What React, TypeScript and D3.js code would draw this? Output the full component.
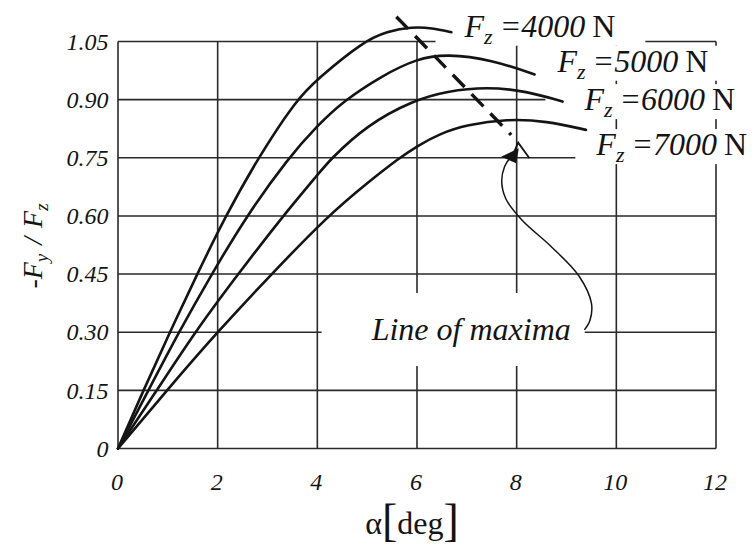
import React, { useEffect, useRef } from 'react';
import * as d3 from 'd3';

const WIDTH = 756;
const HEIGHT = 546;

// Axis ticks
const xTickValues = [0, 2, 4, 6, 8, 10, 12];
const xTickLabels = ['0', '2', '4', '6', '8', '10', '12'];
const yTickValues = [0, 0.15, 0.3, 0.45, 0.6, 0.75, 0.9, 1.05];
const yTickLabels = ['0', '0.15', '0.30', '0.45', '0.60', '0.75', '0.90', '1.05'];

// Vertical wheel loads [N]
const loads = [4000, 5000, 6000, 7000];

// Slip angle α [deg] and normalised lateral force -Fy/Fz, one pair of arrays per load
const alpha4000 = [0, 0.51, 1.04, 1.59, 2.14, 2.81, 3.58, 4.0, 4.92, 5.4, 5.9, 6.3, 6.69];
const ratio4000 = [0, 0.15, 0.3, 0.45, 0.595, 0.75, 0.9, 0.953, 1.05, 1.076, 1.088, 1.085, 1.074];

const alpha5000 = [0, 0.61, 1.22, 1.88, 2.58, 3.42, 4.0, 4.52, 5.3, 6.0, 6.6, 7.5, 8.36];
const ratio5000 = [0, 0.15, 0.3, 0.45, 0.6, 0.75, 0.833, 0.896, 0.962, 1.006, 1.018, 1.003, 0.965];

const alpha6000 = [0, 0.78, 1.54, 2.41, 3.31, 4.0, 4.25, 5.0, 5.92, 6.6, 7.4, 8.2, 8.92];
const ratio6000 = [0, 0.15, 0.3, 0.45, 0.6, 0.705, 0.745, 0.835, 0.898, 0.922, 0.933, 0.922, 0.895];

const alpha7000 = [0, 0.98, 1.99, 3.08, 4.21, 5.0, 5.65, 6.0, 6.45, 7.0, 7.8, 8.6, 9.39];
const ratio7000 = [0, 0.15, 0.3, 0.45, 0.6, 0.685, 0.75, 0.78, 0.812, 0.835, 0.85, 0.845, 0.822];

// Line of maxima: end points (α, -Fy/Fz)
const maximaAlpha = [5.585, 7.89];
const maximaRatio = [1.114, 0.809];

// Leader from the note up to the line of maxima
const leaderAlpha = [9.36, 9.47, 9.5, 9.25, 8.7, 8.1, 7.78, 7.7, 7.76, 7.86];
const leaderRatio = [0.306, 0.33, 0.375, 0.445, 0.52, 0.59, 0.645, 0.69, 0.728, 0.748];

// Arrow head at the end of the leader
const arrowFillAlpha = [7.689, 8.042, 7.99];
const arrowFillRatio = [0.7528, 0.7745, 0.7358];
const arrowOpenAlpha = [7.922, 8.03, 8.257];
const arrowOpenRatio = [0.7572, 0.789, 0.7487];

const noteText = 'Line of maxima';

export default function App() {
  const ref = useRef<SVGSVGElement>(null);

  useEffect(() => {
    const svg = d3.select(ref.current);
    svg.selectAll('*').remove();

    const font = "'Liberation Serif', 'Times New Roman', serif";
    const ink = '#141414';
    const gridInk = '#2a2a2a';

    const x = d3.scaleLinear().domain([0, 12]).range([118, 716]);
    const y = d3.scaleLinear().domain([0, 1.05]).range([448.5, 41.5]);

    svg.append('rect').attr('width', WIDTH).attr('height', HEIGHT).attr('fill', '#fff');

    const gGrid = svg.append('g');
    const gBoxes = svg.append('g');
    const gMarks = svg.append('g');
    const gText = svg.append('g').style('font-family', font).attr('fill', ink);

    // Grid and frame
    gGrid.selectAll('line.v').data(xTickValues).join('line')
      .attr('class', 'v')
      .attr('x1', d => x(d)).attr('x2', d => x(d))
      .attr('y1', y(0)).attr('y2', y(1.05))
      .attr('stroke', gridInk).attr('stroke-width', 1.6);
    gGrid.selectAll('line.h').data(yTickValues).join('line')
      .attr('class', 'h')
      .attr('y1', d => y(d)).attr('y2', d => y(d))
      .attr('x1', x(0)).attr('x2', x(12))
      .attr('stroke', gridInk).attr('stroke-width', 1.6);

    // Tick labels
    gText.selectAll('text.xt').data(xTickValues).join('text')
      .attr('class', 'xt')
      .attr('x', d => x(d) - 1).attr('y', 490)
      .attr('text-anchor', 'middle')
      .attr('font-style', 'italic').attr('font-size', 24)
      .text((d, i) => xTickLabels[i]);
    gText.selectAll('text.yt').data(yTickValues).join('text')
      .attr('class', 'yt')
      .attr('x', 108.5).attr('y', d => y(d))
      .attr('dy', '0.34em')
      .attr('text-anchor', 'end')
      .attr('font-style', 'italic').attr('font-size', 24)
      .text((d, i) => yTickLabels[i]);

    // Axis titles
    const xt = gText.append('text')
      .attr('x', 412).attr('y', 534).attr('text-anchor', 'middle').attr('font-size', 32);
    xt.append('tspan').text('α');
    xt.append('tspan').attr('font-size', 46).attr('dy', 2).text('[');
    xt.append('tspan').attr('dy', -2).text('deg');
    xt.append('tspan').attr('font-size', 46).attr('dy', 2).text(']');

    const yt = gText.append('text')
      .attr('transform', 'translate(42,246) rotate(-90)')
      .attr('text-anchor', 'middle').attr('font-size', 28).attr('font-style', 'italic');
    yt.append('tspan').text('-F');
    yt.append('tspan').attr('font-size', 19).attr('dy', 6).text('y');
    yt.append('tspan').attr('dy', -6).attr('dx', 9).text('/');
    yt.append('tspan').attr('dx', 9).text('F');
    yt.append('tspan').attr('font-size', 19).attr('dy', 6).text('z');

    // Load labels with white backing boxes
    const labelAlpha = [6.954, 8.818, 9.359, 9.599];
    const labelRatio = [1.0624, 0.972, 0.873, 0.757];
    const labelPadLeft = [28, 21, 38, 20];

    loads.forEach((load, i) => {
      const t = gText.append('text')
        .attr('x', x(labelAlpha[i])).attr('y', y(labelRatio[i]))
        .attr('font-size', 32);
      t.append('tspan').attr('font-style', 'italic').text('F');
      t.append('tspan').attr('font-style', 'italic').attr('font-size', 22).attr('dy', 7).text('z');
      t.append('tspan').attr('font-style', 'italic').attr('dy', -7).attr('dx', 7).text('=' + load);
      t.append('tspan').attr('dx', 7).text('N');
      const b = (t.node() as SVGTextElement).getBBox();
      gBoxes.append('rect')
        .attr('x', b.x - labelPadLeft[i]).attr('y', b.y + 3)
        .attr('width', b.width + labelPadLeft[i] + 30).attr('height', b.height - 6)
        .attr('fill', '#fff');
    });

    // Note label
    const note = gText.append('text')
      .attr('x', x(5.09)).attr('y', y(0.28))
      .attr('font-size', 32).attr('font-style', 'italic')
      .text(noteText);
    const nb = (note.node() as SVGTextElement).getBBox();
    gBoxes.append('rect')
      .attr('x', nb.x - 49).attr('y', nb.y - 18)
      .attr('width', nb.width + 49 + 14).attr('height', nb.height + 37)
      .attr('fill', '#fff');

    // Curves
    const series = [
      { a: alpha4000, r: ratio4000 },
      { a: alpha5000, r: ratio5000 },
      { a: alpha6000, r: ratio6000 },
      { a: alpha7000, r: ratio7000 },
    ];
    const smooth = d3.line<[number, number]>()
      .x(d => x(d[0])).y(d => y(d[1]))
      .curve(d3.curveBasis);
    series.forEach(s => {
      const pts = s.a.map((a, i) => [a, s.r[i]] as [number, number]);
      gMarks.append('path')
        .attr('d', smooth(pts))
        .attr('fill', 'none').attr('stroke', ink).attr('stroke-width', 2.6)
        .attr('stroke-linecap', 'round');
    });

    // Line of maxima
    gMarks.append('line')
      .attr('x1', x(maximaAlpha[0])).attr('y1', y(maximaRatio[0]))
      .attr('x2', x(maximaAlpha[1])).attr('y2', y(maximaRatio[1]))
      .attr('stroke', ink).attr('stroke-width', 3.4)
      .attr('stroke-dasharray', '17,10');

    // Leader and arrow head
    const leaderPts = leaderAlpha.map((a, i) => [a, leaderRatio[i]] as [number, number]);
    const leader = d3.line<[number, number]>()
      .x(d => x(d[0])).y(d => y(d[1]))
      .curve(d3.curveCatmullRom.alpha(0.5));
    gMarks.append('path')
      .attr('d', leader(leaderPts))
      .attr('fill', 'none').attr('stroke', ink).attr('stroke-width', 1.5);

    const fillPts = arrowFillAlpha.map((a, i) => [x(a), y(arrowFillRatio[i])].join(','));
    gMarks.append('polygon').attr('points', fillPts.join(' ')).attr('fill', ink);
    const openPts = arrowOpenAlpha.map((a, i) => [x(a), y(arrowOpenRatio[i])] as [number, number]);
    gMarks.append('path')
      .attr('d', d3.line()(openPts))
      .attr('fill', 'none').attr('stroke', ink).attr('stroke-width', 1.8);
  }, []);

  return (
    <svg
      ref={ref}
      width={WIDTH}
      height={HEIGHT}
      style={{ position: 'absolute', left: 0, top: 0, display: 'block', background: '#fff' }}
    />
  );
}
